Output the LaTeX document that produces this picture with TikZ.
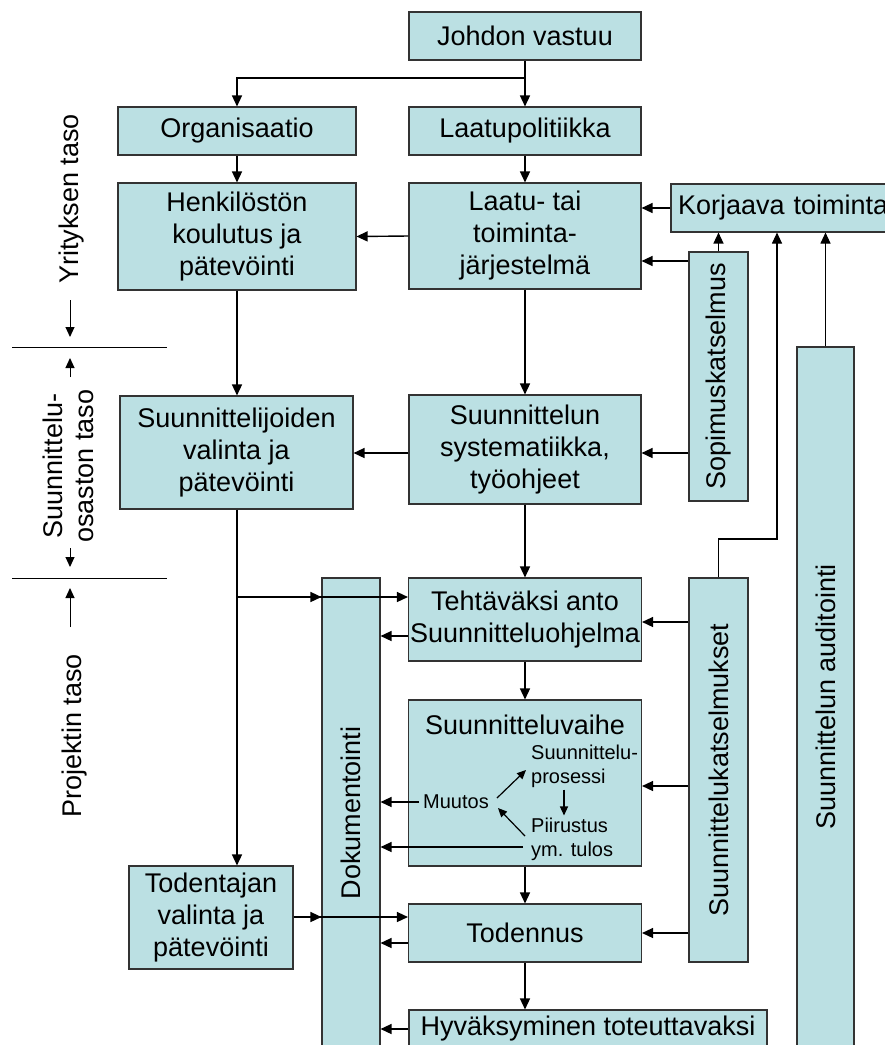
\documentclass[tikz,border=0pt]{standalone}
\usepackage{fontspec}
\setmainfont{Liberation Sans}
\usetikzlibrary{arrows.meta,calc}
\definecolor{boxfill}{HTML}{BBE0E3}
\definecolor{boxline}{HTML}{333333}
\begin{document}
\begin{tikzpicture}[x=1pt,y=-1pt,
  box/.style={draw=boxline, fill=boxfill, line width=1.1pt, inner sep=0pt, align=center, font=\fontsize{27}{32}\selectfont},
  arr/.style={line width=1.4pt, -{Triangle[length=11pt,width=10pt]}},
  tarr/.style={line width=1.1pt, -{Triangle[length=11pt,width=10pt]}},
  iarr/.style={line width=1.2pt, -{Triangle[length=9pt,width=8pt]}},
  sline/.style={line width=1pt},
  small/.style={inner sep=0pt, align=left, font=\fontsize{20}{24}\selectfont},
  side/.style={inner sep=0pt, align=center, rotate=90, font=\fontsize{27}{31}\selectfont},
  sarr/.style={line width=1pt, -{Triangle[length=10pt,width=9pt]}}
]
\useasboundingbox (0,0) rectangle (885,1045);
\clip (0,0) rectangle (885,1045);

% boxes
\node[box, minimum width=232pt, minimum height=48pt] (johdon) at (525,36) {Johdon vastuu};
\node[box, minimum width=238pt, minimum height=48pt] (org) at (237,131) {Organisaatio};
\node[box, minimum width=232pt, minimum height=48pt] (laatupol) at (525,131) {Laatupolitiikka};
\node[box, minimum width=238pt, minimum height=107pt] (henk) at (237,236.5) {Henkilöstön\\koulutus ja\\pätevöinti};
\node[box, minimum width=232pt, minimum height=106pt] (laatu) at (525,236) {Laatu- tai\\toiminta-\\järjestelmä};
\node[box, minimum width=240pt, minimum height=48pt, text width=226pt, align=left, inner xsep=7pt] (korj) at (791,208) {Korjaava toiminta};
\node[box, minimum width=59pt, minimum height=249pt] (sopim) at (718.5,376.5) {\rotatebox{90}{Sopimuskatselmus}};
\node[box, minimum width=232pt, minimum height=109pt] (syst) at (525,449.5) {Suunnittelun\\systematiikka,\\työohjeet};
\node[box, minimum width=233pt, minimum height=113pt] (suunnit) at (236.5,452.5) {Suunnittelijoiden\\valinta ja\\pätevöinti};
\node[box, minimum width=57pt, minimum height=700pt] (audit) at (825.5,697) {\rotatebox{90}{Suunnittelun auditointi}};
\node[box, minimum width=58pt, minimum height=470pt] (doku) at (351,813) {\rotatebox{90}{Dokumentointi}};
\node[box, minimum width=233pt, minimum height=83pt] (tehtava) at (525,619.5) {Tehtäväksi anto\\Suunnitteluohjelma};
\node[box, minimum width=59pt, minimum height=384pt] (katselm) at (718.5,770) {\rotatebox{90}{Suunnittelukatselmukset}};
\node[box, minimum width=233pt, minimum height=166pt] (vaihe) at (525,783) {};
\node[inner sep=0pt, font=\fontsize{27}{31}\selectfont] (vaiheT) at (525,725) {Suunnitteluvaihe};
\node[small, anchor=west] (proses) at (531,766) {Suunnittelu-\\prosessi};
\node[small] (muutos) at (456,802) {Muutos};
\node[small, anchor=west] (piir) at (531,839) {Piirustus\\ym. tulos};
\node[box, minimum width=164pt, minimum height=103pt] (todentajan) at (211,917.5) {Todentajan\\valinta ja\\pätevöinti};
\node[box, minimum width=233pt, minimum height=58pt] (todennus) at (525,933) {Todennus};
\node[box, minimum width=358pt, minimum height=38pt] (hyvaks) at (588,1029) {Hyväksyminen toteuttavaksi};

% side labels
\node[side, anchor=base] (yrit) at (78,199) {Yrityksen taso};
\node[side] (suos) at (68,466) {Suunnittelu-\\osaston taso};
\node[side, anchor=base] (proj) at (81,736) {Projektin taso};

\coordinate (L1a) at (12,347); \coordinate (L1b) at (167,347);
\coordinate (L2a) at (12,578); \coordinate (L2b) at (167,578);
\draw[sline] (L1a) -- (L1b);
\draw[sline] (L2a) -- (L2b);
\coordinate (a1s) at (70,300); \coordinate (a1e) at (70,337);
\coordinate (a2s) at (70,377); \coordinate (a2e) at (70,358);
\coordinate (a3s) at (70,548); \coordinate (a3e) at (70,567);
\coordinate (a4s) at (70,627); \coordinate (a4e) at (70,588);
\draw[sarr] (a1s) -- (a1e);
\draw[sarr] (a2s) -- (a2e);
\draw[sarr] (a3s) -- (a3e);
\draw[sarr] (a4s) -- (a4e);

% level coordinates
\coordinate (split) at (525,78);
\coordinate (y261) at (0,261);
\coordinate (y453) at (0,453);
\coordinate (y539) at (0,539);
\coordinate (x777) at (777,0);
\coordinate (y597) at (0,597);
\coordinate (y622) at (0,622);
\coordinate (y636) at (0,636);
\coordinate (y786) at (0,786);
\coordinate (y917) at (0,917);
\coordinate (y933) at (0,933);
\coordinate (y943) at (0,943);
\coordinate (y1029) at (0,1029);

% connectors
\draw[arr] (johdon.south) -- (laatupol.north);
\draw[arr] (split) -| (org.north);
\draw[arr] (org.south) -- (henk.north);
\draw[arr] (laatupol.south) -- (laatu.north);
\draw[arr] (laatu.west) -- (henk.east);
\draw[arr] (korj.west) -- (laatu.east |- korj.west);
\draw[arr] (sopim.north) -- (sopim.north |- korj.south);
\draw[arr] (sopim.west |- y261) -- (laatu.east |- y261);
\draw[arr] (laatu.south) -- (syst.north);
\draw[arr] (henk.south) -- (henk.south |- suunnit.north);
\draw[arr] (sopim.west |- y453) -- (syst.east |- y453);
\draw[arr] (syst.west |- y453) -- (suunnit.east |- y453);
\draw[arr] (syst.south) -- (tehtava.north);
\draw[tarr] (katselm.north) -- (katselm.north |- y539) -- (x777 |- y539) -- (x777 |- korj.south);
\draw[tarr] (audit.north) -- (audit.north |- korj.south);

\draw[arr] (henk.south |- suunnit.south) -- (henk.south |- todentajan.north);
\draw[arr] (henk.south |- y597) -- (doku.west |- y597);
\draw[arr] (henk.south |- y597) -- (tehtava.west |- y597);
\draw[arr] (tehtava.west |- y636) -- (doku.east |- y636);
\draw[arr] (katselm.west |- y622) -- (tehtava.east |- y622);
\draw[arr] (tehtava.south) -- (vaihe.north);
\draw[arr] (katselm.west |- y786) -- (vaihe.east |- y786);
\draw[arr] (vaihe.south) -- (todennus.north);
\draw[arr] (todentajan.east |- y917) -- (doku.west |- y917);
\draw[arr] (todentajan.east |- y917) -- (todennus.west |- y917);
\draw[arr] (todennus.west |- y943) -- (doku.east |- y943);
\draw[arr] (katselm.west |- y933) -- (todennus.east |- y933);
\draw[arr] (todennus.south) -- (todennus.south |- hyvaks.north);
\draw[arr] (hyvaks.west |- y1029) -- (doku.east |- y1029);

% inside Suunnitteluvaihe
\coordinate (piirout) at ([xshift=-8pt,yshift=-8pt]piir.west);
\draw[iarr] ([xshift=8pt,yshift=4pt]muutos.east) -- ([xshift=-5pt,yshift=-4pt]proses.west);
\draw[iarr] ([xshift=33pt,yshift=-2pt]proses.south west) -- ([xshift=33pt,yshift=2pt]piir.north west);
\draw[iarr] ([xshift=-6pt,yshift=3pt]piir.west) -- ([xshift=9pt,yshift=-6pt]muutos.east);
\draw[arr] ([xshift=-4pt]muutos.west) -- (doku.east |- muutos.west);
\draw[arr] (piirout) -- (doku.east |- piirout);
\end{tikzpicture}
\end{document}
